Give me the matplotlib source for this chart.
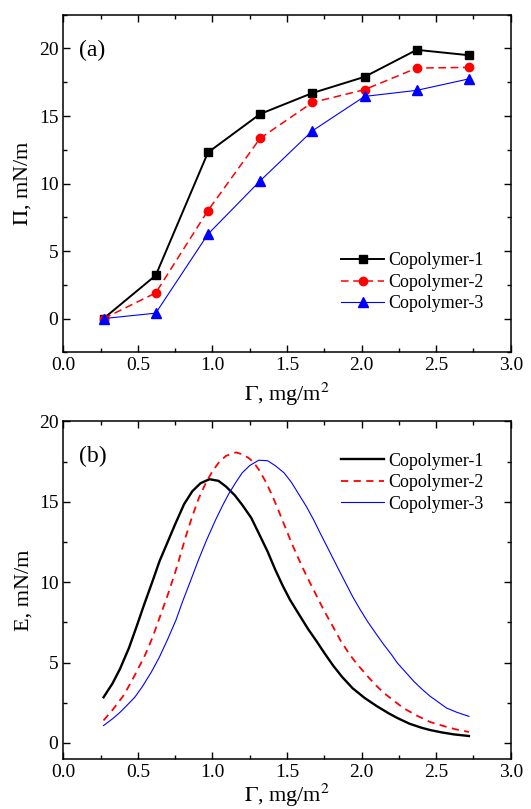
import matplotlib
matplotlib.use("Agg")
import matplotlib.pyplot as plt
from matplotlib.ticker import MultipleLocator

plt.rcParams['font.family'] = ['Liberation Serif', 'DejaVu Serif']
plt.rcParams['mathtext.fontset'] = 'stix'

# panel (a): surface pressure vs surface concentration
gam = [0.27, 0.62, 0.97, 1.32, 1.67, 2.02, 2.37, 2.72]
pi1 = [0.0, 3.2, 12.3, 15.15, 16.7, 17.9, 19.9, 19.5]
pi2 = [0.0, 1.9, 8.0, 13.35, 16.0, 16.95, 18.55, 18.6]
pi3 = [0.0, 0.4, 6.25, 10.2, 13.9, 16.45, 16.9, 17.75]

# panel (b): elasticity curves
gx1 = [0.27, 0.33, 0.38, 0.44, 0.49, 0.54, 0.60, 0.645, 0.70, 0.75, 0.81, 0.865,
       0.92, 0.98, 1.04, 1.09, 1.15, 1.20, 1.26, 1.31, 1.37, 1.42, 1.47, 1.52,
       1.58, 1.64, 1.70, 1.75, 1.81, 1.87, 1.94, 2.02, 2.10, 2.18, 2.24, 2.32,
       2.40, 2.46, 2.54, 2.62, 2.72]
e1 = [2.84, 3.7, 4.6, 5.9, 7.2, 8.55, 10.1, 11.3, 12.5, 13.6, 14.85, 15.65,
      16.15, 16.4, 16.3, 15.95, 15.4, 14.8, 14.0, 13.05, 11.9, 10.8, 9.8, 8.9,
      8.0, 7.1, 6.3, 5.6, 4.8, 4.1, 3.4, 2.8, 2.3, 1.85, 1.55, 1.2,
      0.95, 0.8, 0.65, 0.53, 0.43]

gx2 = [0.27, 0.33, 0.40, 0.45, 0.49, 0.55, 0.60, 0.65, 0.70, 0.75, 0.776, 0.82,
       0.865, 0.91, 0.955, 1.0, 1.044, 1.09, 1.157, 1.20, 1.246, 1.28, 1.312, 1.36,
       1.40, 1.43, 1.48, 1.53, 1.58, 1.63, 1.69, 1.75, 1.81, 1.86, 1.92, 1.97,
       2.05, 2.10, 2.15, 2.22, 2.28, 2.37, 2.46, 2.55, 2.63, 2.72]
e2 = [1.4, 2.05, 2.9, 3.7, 4.4, 5.5, 6.6, 7.9, 9.2, 10.6, 11.4, 12.8,
      14.1, 15.25, 16.15, 16.9, 17.45, 17.85, 18.07, 17.95, 17.7, 17.4, 16.98, 16.2,
      15.4, 14.75, 13.6, 12.45, 11.4, 10.4, 9.3, 8.2, 7.2, 6.35, 5.5, 4.9,
      4.04, 3.55, 3.1, 2.6, 2.17, 1.7, 1.3, 1.05, 0.85, 0.68]

gx3 = [0.27, 0.33, 0.38, 0.42, 0.48, 0.53, 0.59, 0.645, 0.70, 0.756, 0.80, 0.85,
       0.905, 0.96, 1.02, 1.07, 1.11, 1.16, 1.20, 1.25, 1.31, 1.37, 1.42, 1.48,
       1.53, 1.58, 1.63, 1.68, 1.725, 1.78, 1.84, 1.89, 1.94, 1.99, 2.04, 2.10,
       2.15, 2.20, 2.24, 2.30, 2.35, 2.41, 2.46, 2.52, 2.57, 2.64, 2.72]
e3 = [1.08, 1.5, 1.9, 2.27, 2.85, 3.5, 4.4, 5.35, 6.45, 7.65, 8.8, 10.0,
      11.35, 12.6, 13.85, 14.8, 15.5, 16.25, 16.8, 17.25, 17.58, 17.55, 17.25, 16.8,
      16.2, 15.45, 14.7, 13.85, 13.0, 12.0, 10.9, 10.0, 9.1, 8.3, 7.55, 6.75,
      6.1, 5.5, 4.97, 4.35, 3.83, 3.3, 2.9, 2.5, 2.17, 1.9, 1.65]

labels = ['Copolymer-1', 'Copolymer-2', 'Copolymer-3']

fig = plt.figure(figsize=(5.31, 8.09), dpi=100)
ax1 = fig.add_axes([0.1192, 0.5645, 0.8426, 0.4173])
ax2 = fig.add_axes([0.1192, 0.0618, 0.8426, 0.4174])

ax1.plot(gam, pi1, color='black', lw=1.4, marker='s', ms=6, label=labels[0])
ax1.plot(gam, pi2, color='red', lw=1.1, ls=(0, (5, 3)), marker='o', ms=6, label=labels[1])
ax1.plot(gam, pi3, color='blue', lw=0.8, marker='^', ms=7, label=labels[2])

ax2.plot(gx1, e1, color='black', lw=1.7, label=labels[0])
ax2.plot(gx2, e2, color='red', lw=1.3, ls=(0, (4, 3)), label=labels[1])
ax2.plot(gx3, e3, color='blue', lw=0.8, label=labels[2])

ax1.set_ylim(-2.5, 22.5)
ax2.set_ylim(-1, 20)
for ax in (ax1, ax2):
    ax.set_xlim(0, 3)
    ax.xaxis.set_major_locator(MultipleLocator(0.5))
    ax.xaxis.set_minor_locator(MultipleLocator(0.25))
    ax.yaxis.set_major_locator(MultipleLocator(5))
    ax.yaxis.set_minor_locator(MultipleLocator(2.5))
    ax.tick_params(which='both', direction='in', top=True, right=True, labelsize=14)
    ax.tick_params(which='major', length=5, width=1)
    ax.tick_params(which='minor', length=3, width=1)
    ax.xaxis.set_major_formatter(plt.FuncFormatter(lambda v, p: f"{v:.1f}"))
    for s in ax.spines.values():
        s.set_linewidth(1.1)

ax1.set_xlabel(r"$\Gamma$, mg/m$^2$", fontsize=16, labelpad=5)
ax2.set_xlabel(r"$\Gamma$, mg/m$^2$", fontsize=16, labelpad=1)

ax1.legend(frameon=False, fontsize=13, handlelength=2.4, handletextpad=0.2,
           labelspacing=0.25, loc='lower right', bbox_to_anchor=(0.975, 0.07))
ax2.legend(frameon=False, fontsize=13, handlelength=2.4, handletextpad=0.2,
           labelspacing=0.25, loc='upper right', bbox_to_anchor=(0.975, 0.955))

ax1.set_ylabel(r"$\Pi$, mN/m", fontsize=16, labelpad=4)
ax2.set_ylabel("E, mN/m", fontsize=16, labelpad=4)
ax1.text(0.035, 0.895, "(a)", transform=ax1.transAxes, fontsize=17, va='center')
ax2.text(0.035, 0.897, "(b)", transform=ax2.transAxes, fontsize=17, va='center')

fig.savefig("out.png", dpi=100)
